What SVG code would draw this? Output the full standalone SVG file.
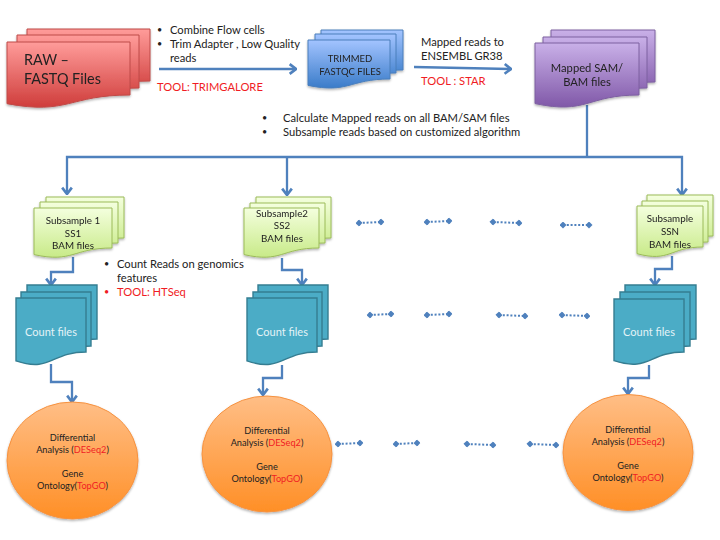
<svg xmlns="http://www.w3.org/2000/svg" width="720" height="540" viewBox="0 0 720 540">
<style>
text{font-family:Lato,"Liberation Sans",sans-serif;font-size:11.2px;fill:#222}
.c{text-anchor:middle}
.s{font-size:9.8px}
.o{font-size:9.2px}
.b{font-size:9px}
.r,tspan.r{fill:#f01c24}
.big{font-size:14.4px}
.w{fill:#e4f3f7;font-size:11px;text-anchor:middle}
.red{fill:url(#gr);stroke:#be4b48}
.blue{fill:url(#gb);stroke:#4a7ebb}
.pur{fill:url(#gp);stroke:#7d60a0}
.grn{fill:url(#gg);stroke:#9bbb59}
.tl{fill:#4bacc6;stroke:#357d91;stroke-width:1.4}
.org{fill:url(#go);stroke:#f69240}
.sh{filter:url(#ds)}
.ln{fill:none;stroke:#4f81bd;stroke-width:2.3}
.ar{marker-end:url(#arrow)}
.dt{fill:none;stroke:#4f81bd;stroke-width:2;stroke-dasharray:2 1.8;marker-start:url(#dia);marker-end:url(#dia)}
</style>
<defs>
<linearGradient id="gr" x1="0" y1="0" x2="0" y2="1"><stop offset="0" stop-color="#ff9c9a"/><stop offset="1" stop-color="#cf3d3b"/></linearGradient>
<linearGradient id="gb" x1="0" y1="0" x2="0" y2="1"><stop offset="0" stop-color="#a3c4ff"/><stop offset="1" stop-color="#3a7cc9"/></linearGradient>
<linearGradient id="gp" x1="0" y1="0" x2="0" y2="1"><stop offset="0" stop-color="#c9b0e8"/><stop offset="1" stop-color="#8058a8"/></linearGradient>
<linearGradient id="gg" x1="0" y1="0" x2="0" y2="1"><stop offset="0" stop-color="#f4ffde"/><stop offset="1" stop-color="#c8ea88"/></linearGradient>
<linearGradient id="go" x1="0" y1="0" x2="0" y2="1"><stop offset="0" stop-color="#ffbe86"/><stop offset="1" stop-color="#ff8f26"/></linearGradient>
<filter id="ds" x="-10%" y="-10%" width="120%" height="125%"><feDropShadow dx="0" dy="1.5" stdDeviation="1" flood-color="#000" flood-opacity=".3"/></filter>
<marker id="arrow" viewBox="0 0 10 10" refX="9" refY="5" markerWidth="5" markerHeight="5" orient="auto" markerUnits="strokeWidth"><path d="M3.500 .8L9 5L3.500 9.200" fill="none" stroke="#4f81bd" stroke-width="2.300"/></marker>
<marker id="dia" viewBox="0 0 10 10" refX="5" refY="5" markerWidth="3.500" markerHeight="3.500" orient="auto" markerUnits="strokeWidth"><path d="M5 0L10 5L5 10L0 5Z" fill="#4f81bd"/></marker>
</defs>

<g id="connectors">
<path class="ln ar" d="M159 69H296"/>
<path class="ln ar" d="M414 67L511 69"/>
<path class="ln" d="M587 105V157"/>
<path class="ln ar" d="M587 157H67V194"/>
<path class="ln ar" d="M287 157V195"/>
<path class="ln ar" d="M587 157H682V195"/>
<path class="ln ar" d="M73 257V272H51V285"/>
<path class="ln ar" d="M51 364V382H72V402"/>
<path class="ln ar" d="M282 258V270H302V285"/>
<path class="ln ar" d="M282 365V378H263V395"/>
<path class="ln ar" d="M672 256V269H655V285"/>
<path class="ln ar" d="M649 365V378H628V394"/>
<path class="dt" d="M359 223L381 222"/>
<path class="dt" d="M427 222L449 221"/>
<path class="dt" d="M493 222L519 223"/>
<path class="dt" d="M563 225L589 225"/>
<path class="dt" d="M370 315L391 314"/>
<path class="dt" d="M427 315L449 314"/>
<path class="dt" d="M499 315L525 316"/>
<path class="dt" d="M562 315L587 316"/>
<path class="dt" d="M338 444L360 443"/>
<path class="dt" d="M396 444L417 443"/>
<path class="dt" d="M467 444L493 445"/>
<path class="dt" d="M530 444L556 445"/>
</g>

<g id="raw" class="sh">
<path class="red" d="M27 29H150V81C88.500 81 88.500 100.800 27 89.600Z"/>
<path class="red" d="M17 35H139V88C78 88 78 108.200 17 96.700Z"/>
<path class="red" d="M7 42H130V95C68.500 95 68.500 115.200 7 103.700Z"/>
<text class="big" x="24" y="65">RAW –</text>
<text class="big" x="24" y="84">FASTQ Files</text>
</g>
<g id="trimmed" class="sh">
<path class="blue" d="M321 30H403V70C362 70 362 85.200 321 76.600Z"/>
<path class="blue" d="M315 34H396V73C355.500 73 355.500 87.900 315 79.400Z"/>
<path class="blue" d="M308 40H390V79C349 79 349 93.900 308 85.400Z"/>
<text class="c o" x="350" y="62" style="font-size:9.5px">TRIMMED</text>
<text class="c o" x="350" y="75" style="font-size:9.5px">FASTQC FILES</text>
</g>
<g id="mapped" class="sh">
<path class="pur" d="M551 30H655V82C603 82 603 101.800 551 90.600Z"/>
<path class="pur" d="M543 37H647V88C595 88 595 107.400 543 96.400Z"/>
<path class="pur" d="M535 43H639V95C587 95 587 114.800 535 103.600Z"/>
<text class="c" x="587" y="72">Mapped SAM/</text>
<text class="c" x="587" y="86">BAM files</text>
</g>

<g id="ss1" class="sh">
<path class="grn" d="M46 197H124V238C85 238 85 253.600 46 244.700Z"/>
<path class="grn" d="M40 202H118V243C79 243 79 258.600 40 249.700Z"/>
<path class="grn" d="M34 208H112V248C73 248 73 263.200 34 254.600Z"/>
<text class="c s" x="73" y="224">Subsample 1</text>
<text class="c s" x="73" y="237">SS1</text>
<text class="c s" x="73" y="249">BAM files</text>
</g>
<g id="ss2" class="sh">
<path class="grn" d="M256 197H331V238C293.500 238 293.500 253.600 256 244.700Z"/>
<path class="grn" d="M250 203H325V243C287.500 243 287.500 258.200 250 249.600Z"/>
<path class="grn" d="M244 208H319V248C281.500 248 281.500 263.200 244 254.600Z"/>
<text class="c s" x="282" y="217">Subsample2</text>
<text class="c s" x="282" y="229">SS2</text>
<text class="c s" x="282" y="242">BAM files</text>
</g>
<g id="ssn" class="sh">
<path class="grn" d="M647 195H713V236C680 236 680 251.600 647 242.700Z"/>
<path class="grn" d="M642 201H708V242C675 242 675 257.600 642 248.700Z"/>
<path class="grn" d="M637 206H703V247C670 247 670 262.600 637 253.700Z"/>
<text class="c s" x="670" y="222">Subsample</text>
<text class="c s" x="670" y="235">SSN</text>
<text class="c s" x="670" y="248">BAM files</text>
</g>

<g id="count1">
<path class="tl" d="M27 285H97V339C62 339 62 359.600 27 347.900Z"/>
<path class="tl" d="M21 292H91V346C56 346 56 366.600 21 354.900Z"/>
<path class="tl" d="M16 298H86V352C51 352 51 372.600 16 360.900Z"/>
<text class="w" x="51" y="336">Count files</text>
</g>
<g id="count2">
<path class="tl" d="M258 285H328V339C293 339 293 359.600 258 347.900Z"/>
<path class="tl" d="M253 292H322V346C287.500 346 287.500 366.600 253 354.900Z"/>
<path class="tl" d="M247 298H317V352C282 352 282 372.600 247 360.900Z"/>
<text class="w" x="282" y="336">Count files</text>
</g>
<g id="count3">
<path class="tl" d="M625 285H696V339C660.500 339 660.500 359.600 625 347.900Z"/>
<path class="tl" d="M620 292H690V346C655 346 655 366.600 620 354.900Z"/>
<path class="tl" d="M614 299H684V352C649 352 649 372.200 614 360.700Z"/>
<text class="w" x="649" y="336">Count files</text>
</g>

<g id="de1">
<ellipse class="org sh" cx="72.500" cy="460.500" rx="65.500" ry="58.500"/>
<text class="c o" x="72.500" y="441">Differential</text>
<text class="c o" x="72.500" y="453">Analysis (<tspan class="r">DESeq2</tspan>)</text>
<text class="c o" x="72.500" y="477">Gene</text>
<text class="c o" x="72.500" y="489">Ontology(<tspan class="r">TopGO</tspan>)</text>
</g>
<g id="de2">
<ellipse class="org sh" cx="267" cy="454" rx="65" ry="58"/>
<text class="c o" x="267" y="434">Differential</text>
<text class="c o" x="267" y="446">Analysis (<tspan class="r">DESeq2</tspan>)</text>
<text class="c o" x="267" y="470">Gene</text>
<text class="c o" x="267" y="482">Ontology(<tspan class="r">TopGO</tspan>)</text>
</g>
<g id="de3">
<ellipse class="org sh" cx="628" cy="452.500" rx="65" ry="58"/>
<text class="c o" x="628" y="433">Differential</text>
<text class="c o" x="628" y="445">Analysis (<tspan class="r">DESeq2</tspan>)</text>
<text class="c o" x="628" y="469">Gene</text>
<text class="c o" x="628" y="481">Ontology(<tspan class="r">TopGO</tspan>)</text>
</g>

<g id="notes">
<text class="b" x="157" y="33">•</text><text x="170" y="34">Combine Flow cells</text>
<text class="b" x="157" y="47">•</text><text x="170" y="48">Trim Adapter , Low Quality</text>
<text x="170" y="62">reads</text>
<text class="r" x="157" y="91">TOOL: TRIMGALORE</text>
<text x="421" y="46">Mapped reads to</text>
<text x="421" y="60">ENSEMBL GR38</text>
<text class="r" x="421" y="85">TOOL : STAR</text>
<text class="b" x="262" y="121">•</text><text x="283" y="122">Calculate Mapped reads on all BAM/SAM files</text>
<text class="b" x="262" y="135">•</text><text x="283" y="136">Subsample reads based on customized algorithm</text>
<text class="b" x="104" y="267">•</text><text x="117" y="268">Count Reads on genomics</text>
<text x="117" y="282">features</text>
<text class="r b" x="104" y="295">•</text><text class="r" x="117" y="296">TOOL: HTSeq</text>
</g>
</svg>
